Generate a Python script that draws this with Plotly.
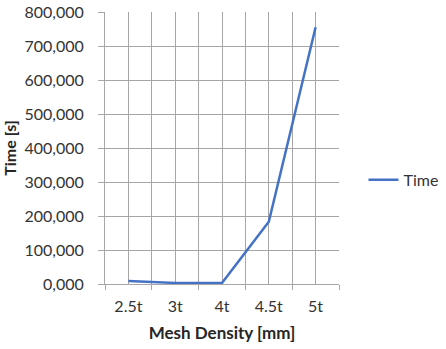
import plotly.graph_objects as go

# Mesh density categories and measured run time per mesh
categories = ["2.5t", "3t", "4t", "4.5t", "5t"]
time_s = [9000, 3000, 3000, 183000, 755000]

# Y axis tick values and their labels (comma used as decimal separator)
y_ticks = [0, 100000, 200000, 300000, 400000, 500000, 600000, 700000, 800000]
y_tick_labels = ["0,000", "100,000", "200,000", "300,000", "400,000",
                 "500,000", "600,000", "700,000", "800,000"]

positions = list(range(len(categories)))
boundaries = [p - 0.5 for p in positions] + [positions[-1] + 0.5]

GRID = "#A6A6A6"
FONT = "Lato"
TEXT = "#333333"

fig = go.Figure()
fig.add_trace(go.Scatter(
    x=positions, y=time_s, mode="lines", name="Time",
    line=dict(color="#4472C4", width=2.5),
))

fig.update_layout(
    width=446, height=349,
    margin=dict(l=105, r=107, t=12, b=65, autoexpand=False),
    paper_bgcolor="white", plot_bgcolor="white",
    font=dict(family=FONT, size=16, color=TEXT),
    showlegend=True,
    legend=dict(xref="container", yref="container",
                x=0.815, y=0.485, xanchor="left", yanchor="middle",
                font=dict(family=FONT, size=16, color=TEXT),
                bgcolor="rgba(0,0,0,0)"),
)

fig.update_xaxes(
    automargin=False,
    range=[boundaries[0], boundaries[-1]],
    tickmode="array", tickvals=positions, ticktext=categories,
    ticks="", showgrid=True, gridcolor=GRID, gridwidth=1,
    showline=True, linecolor=GRID, linewidth=1,
    zeroline=False,
    tickfont=dict(family=FONT, size=16, color=TEXT),
    ticklabelstandoff=8,
    minor=dict(tickmode="array", tickvals=boundaries, ticks="outside",
               ticklen=5, tickcolor=GRID, showgrid=True,
               gridcolor=GRID, gridwidth=1),
    title=dict(text="<b>Mesh Density [mm]</b>", standoff=12,
               font=dict(family=FONT, size=17, color="#262626")),
)

fig.update_yaxes(
    automargin=False,
    range=[0, 800000],
    tickmode="array", tickvals=y_ticks, ticktext=y_tick_labels,
    ticks="outside", ticklen=6, tickcolor=GRID,
    showgrid=True, gridcolor=GRID, gridwidth=1,
    showline=True, linecolor=GRID, linewidth=1,
    zeroline=False,
    tickfont=dict(family=FONT, size=16, color=TEXT),
    ticklabelstandoff=11,
    title=dict(text="<b>Time [s]</b>", standoff=8,
               font=dict(family=FONT, size=16, color="#262626")),
)

fig.write_html("out.html")
